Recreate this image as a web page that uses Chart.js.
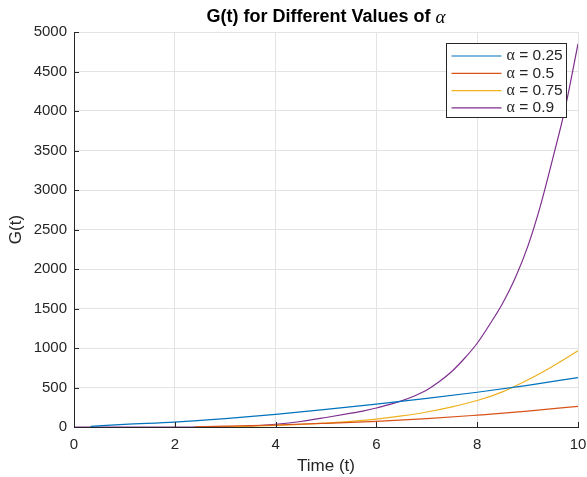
<!DOCTYPE html>
<html>
<head>
<meta charset="utf-8">
<title>G(t) for Different Values of α</title>
<script src="https://cdn.jsdelivr.net/npm/chart.js@4.4.1/dist/chart.umd.min.js"></script>
<style>
  html, body { margin: 0; padding: 0; background: #fff; }
  #wrap { width: 587px; height: 477px; }
</style>
</head>
<body>
<div id="wrap"><canvas id="gChart" width="587" height="477"></canvas></div>
<script>
// values
const alphaLabels = ['0.25', '0.5', '0.75', '0.9'];
const lineColors = ['#0072BD', '#D95319', '#EDB120', '#7E2F8E'];

const tBlue = [0.33, 1, 2, 3, 4, 5, 6, 7, 8, 9, 10];
const gBlue = [8, 33, 62, 106, 160, 222, 290, 362, 440, 528, 626];

const tOrange = [2.4, 3, 4, 5, 6, 7, 8, 9, 10];
const gOrange = [3, 10, 25, 47, 72, 105, 150, 200, 262];

const tYellow = [2.8, 3, 3.5, 4, 4.5, 5, 5.5, 6, 6.5, 7, 7.5, 8, 8.5, 9, 9.5, 10];
const gYellow = [0, 3, 10, 20, 32, 50, 72, 100, 140, 190, 255, 335, 445, 595, 770, 965];

const tPurple = [0, 1, 2, 3, 3.5, 4, 4.5, 5, 5.5, 5.75, 6, 6.25, 6.5, 6.75, 7, 7.25, 7.5, 7.75,
                 8, 8.25, 8.5, 8.75, 9, 9.25, 9.5, 9.75, 10];
const gPurple = [0, 0, 0, 2, 12, 35, 70, 120, 175, 205, 240, 283, 330, 392, 468, 575, 705, 870,
                 1060, 1300, 1560, 1880, 2280, 2790, 3400, 4050, 4850];

const xTicks = [0, 2, 4, 6, 8, 10];
const yTicks = [0, 500, 1000, 1500, 2000, 2500, 3000, 3500, 4000, 4500, 5000];

const tSeries = [tBlue, tOrange, tYellow, tPurple];
const gSeries = [gBlue, gOrange, gYellow, gPurple];

const axisColor = '#262626';
const gridColor = '#e3e3e3';
const sans = '"Liberation Sans", Arial, sans-serif';
const serif = '"Liberation Serif", "DejaVu Serif", serif';

function pairs(ts, gs) {
  return ts.map((t, i) => ({ x: t, y: gs[i] }));
}

// title with a serif alpha, drawn above the plot box
const titlePlugin = {
  id: 'mTitle',
  afterDraw(chart) {
    const ctx = chart.ctx;
    const a = chart.chartArea;
    const part1 = 'G(t) for Different Values of ';
    ctx.save();
    ctx.textBaseline = 'middle';
    ctx.fillStyle = '#000';
    ctx.font = 'bold 18px ' + sans;
    const w1 = ctx.measureText(part1).width;
    ctx.font = 'italic 19px ' + serif;
    const w2 = ctx.measureText('α').width;
    let x = (a.left + a.right) / 2 - (w1 + w2) / 2;
    ctx.font = 'bold 18px ' + sans;
    ctx.fillText(part1, x, 17);
    ctx.font = 'italic 19px ' + serif;
    ctx.fillText('α', x + w1, 18);
    ctx.restore();
  }
};

// MATLAB style ticks pointing into the plot
const innerTicks = {
  id: 'innerTicks',
  afterDatasetsDraw(chart) {
    const ctx = chart.ctx;
    const a = chart.chartArea;
    const xs = chart.scales.x, ys = chart.scales.y;
    ctx.save();
    ctx.strokeStyle = axisColor;
    ctx.lineWidth = 1;
    ctx.beginPath();
    xTicks.forEach(v => {
      const px = Math.round(xs.getPixelForValue(v)) + 0.5;
      ctx.moveTo(px, a.bottom);
      ctx.lineTo(px, a.bottom - 5);
    });
    yTicks.forEach(v => {
      const py = Math.round(ys.getPixelForValue(v)) + 0.5;
      ctx.moveTo(a.left, py);
      ctx.lineTo(a.left + 5, py);
    });
    ctx.stroke();
    ctx.restore();
  }
};

// legend box in the upper right corner of the plot
const boxLegend = {
  id: 'boxLegend',
  afterDraw(chart) {
    const ctx = chart.ctx;
    const bx = 446.5, by = 43.5, bw = 120, bh = 74;
    ctx.save();
    ctx.fillStyle = '#fff';
    ctx.fillRect(bx, by, bw, bh);
    ctx.strokeStyle = axisColor;
    ctx.lineWidth = 1;
    ctx.strokeRect(bx, by, bw, bh);
    ctx.textBaseline = 'middle';
    alphaLabels.forEach((lab, i) => {
      const y = by + 12.5 + i * 17.3;
      ctx.strokeStyle = lineColors[i];
      ctx.lineWidth = 1.2;
      ctx.beginPath();
      ctx.moveTo(bx + 5, y);
      ctx.lineTo(bx + 55, y);
      ctx.stroke();
      ctx.fillStyle = axisColor;
      ctx.font = '16px ' + serif;
      ctx.fillText('α', bx + 60, y);
      const wa = ctx.measureText('α').width;
      ctx.font = '15.5px ' + sans;
      ctx.fillText(' = ' + lab, bx + 60 + wa, y);
    });
    ctx.restore();
  }
};

new Chart(document.getElementById('gChart'), {
  type: 'line',
  data: {
    datasets: alphaLabels.map((lab, i) => ({
      label: 'α = ' + lab,
      data: pairs(tSeries[i], gSeries[i]),
      borderColor: lineColors[i],
      backgroundColor: lineColors[i],
      borderWidth: 1.2,
      pointRadius: 0,
      cubicInterpolationMode: 'monotone',
      fill: false
    }))
  },
  options: {
    responsive: false,
    animation: false,
    layout: { padding: { top: 32, right: 9, left: 0, bottom: 0 } },
    plugins: {
      legend: { display: false },
      title: { display: false },
      tooltip: { enabled: false }
    },
    scales: {
      x: {
        type: 'linear',
        min: 0, max: 10,
        afterFit(s) { s.height = 50; s.paddingLeft = 0; s.paddingRight = 0; },
        afterBuildTicks(s) { s.ticks = xTicks.map(v => ({ value: v })); },
        grid: { color: gridColor, drawTicks: false },
        border: { color: axisColor, width: 1 },
        ticks: { padding: 9, color: axisColor, font: { size: 15, family: sans } },
        title: {
          display: true, text: 'Time (t)', color: axisColor,
          font: { size: 17, family: sans },
          padding: { top: 0, bottom: 0 }
        }
      },
      y: {
        min: 0, max: 5000,
        afterFit(s) { s.width = 74; s.paddingTop = 0; s.paddingBottom = 0; },
        afterBuildTicks(s) { s.ticks = yTicks.map(v => ({ value: v })); },
        grid: { color: gridColor, drawTicks: false },
        border: { color: axisColor, width: 1 },
        ticks: {
          padding: 7, color: axisColor,
          font: { size: 15, family: sans },
          callback: v => String(v)
        },
        title: {
          display: true, text: 'G(t)', color: axisColor,
          font: { size: 17, family: sans },
          padding: { top: 6, bottom: 0 }
        }
      }
    }
  },
  plugins: [titlePlugin, innerTicks, boxLegend]
});
</script>
</body>
</html>
